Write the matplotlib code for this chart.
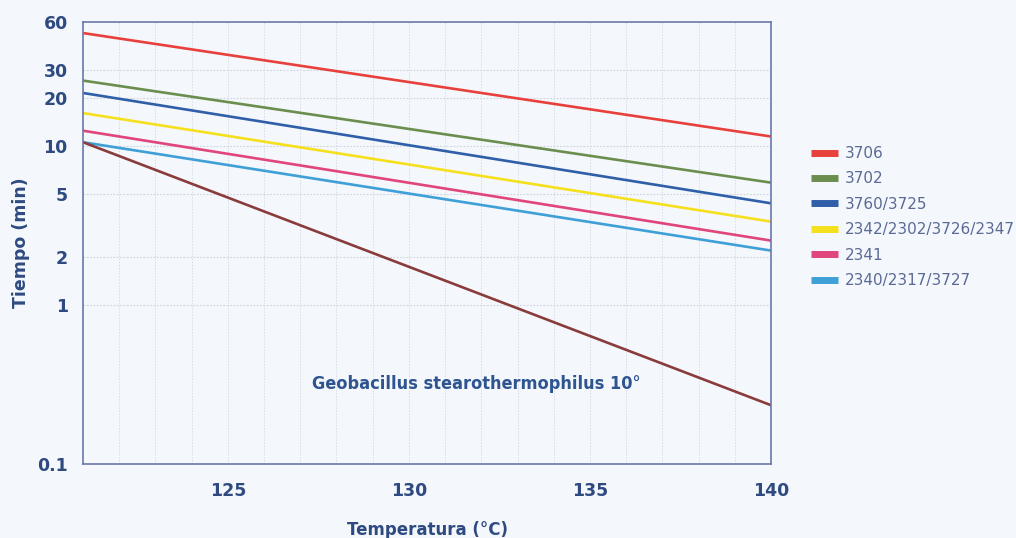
import numpy as np
import matplotlib
matplotlib.use("Agg")
import matplotlib.pyplot as plt
from matplotlib.ticker import FixedLocator, NullLocator

# temperatures (endpoints of each straight line on the log chart)
temps = [121, 140]

labels = ["3706", "3702", "3760/3725", "2342/2302/3726/2347", "2341", "2340/2317/3727"]
t_3706 = [50.9, 11.4]
t_3702 = [25.6, 5.85]
t_3760 = [21.4, 4.34]
t_2342 = [16.0, 3.33]
t_2341 = [12.4, 2.53]
t_2340 = [10.5, 2.19]
t_geo = [10.5, 0.234]   # Geobacillus stearothermophilus reference

series = [t_3706, t_3702, t_3760, t_2342, t_2341, t_2340]
colors = ["#e8413c", "#6b8e4e", "#2f5fa8", "#f4e01c", "#e0457b", "#3fa0d8"]

yticks = [0.1, 1, 2, 5, 10, 20, 30, 60]
ytick_labels = ["0.1", "1", "2", "5", "10", "20", "30", "60"]
xticks = [125, 130, 135, 140]

bg = "#f4f7fc"
txt = "#2e4a80"

fig = plt.figure(figsize=(10.16, 5.38), dpi=100, facecolor=bg)
ax = fig.add_axes([0.0817, 0.1375, 0.6772, 0.8222], facecolor=bg)

for vals, col, lab in zip(series, colors, labels):
    ax.plot(temps, vals, color=col, lw=1.9, label=lab, solid_capstyle="butt")
ax.plot(temps, t_geo, color="#8a3b3b", lw=1.9, solid_capstyle="butt")

ax.set_yscale("log")
ax.set_xlim(121, 140)
ax.set_ylim(0.1, 60)

ax.yaxis.set_major_locator(FixedLocator(yticks))
ax.yaxis.set_minor_locator(NullLocator())
ax.set_yticklabels(ytick_labels)
ax.set_xticks(xticks)
ax.xaxis.set_minor_locator(FixedLocator(np.arange(122, 140)))

ax.tick_params(axis="both", which="both", length=0, labelsize=12.5, labelcolor=txt)
ax.tick_params(axis="y", pad=11)
ax.tick_params(axis="x", pad=13)
for lbl in ax.get_xticklabels() + ax.get_yticklabels():
    lbl.set_fontweight("bold")

# grid: dotted, faint
for y in [1, 2, 5, 10, 20, 30]:
    ax.axhline(y, color="#cdd2dc", lw=0.8, ls=(0, (1.5, 1.5)), zorder=0)
ax.grid(True, axis="x", which="both", color="#d8dce4", lw=0.7, ls=(0, (1.5, 1.5)), zorder=0)

for s in ax.spines.values():
    s.set_color("#6a78a8")
    s.set_linewidth(1.2)

ax.set_ylabel("Tiempo (min)", fontsize=12.5, fontweight="bold", color=txt, labelpad=5)
ax.set_xlabel("Temperatura (°C)", fontsize=12, fontweight="bold", color=txt, labelpad=15)

ax.text(131.85, 0.32, "Geobacillus stearothermophilus 10°", ha="center", va="center",
        fontsize=13, fontweight="bold", color="#2e5590", fontstretch="condensed")

leg = fig.legend(loc="upper left", bbox_to_anchor=(0.792, 0.74), frameon=False,
                 fontsize=11, handlelength=1.8, handletextpad=0.4, labelspacing=0.68,
                 borderaxespad=0)
for h in leg.legend_handles:
    h.set_linewidth(5)
for t in leg.get_texts():
    t.set_color("#5a6a95")

fig.savefig("out.png", dpi=100, facecolor=bg)
